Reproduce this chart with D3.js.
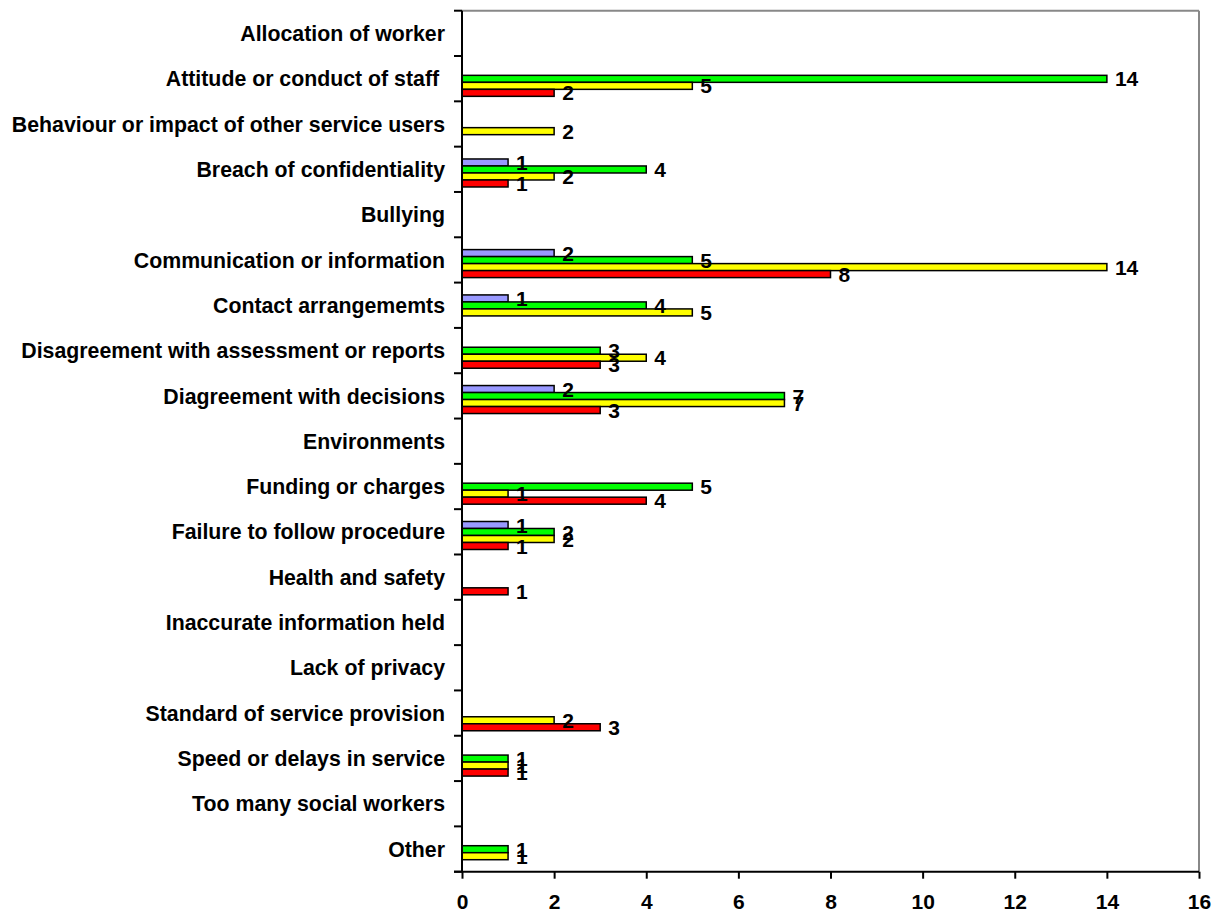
<!DOCTYPE html>
<html>
<head>
<meta charset="utf-8">
<script src="https://cdn.jsdelivr.net/npm/d3@7"></script>
<style>
  html, body { margin: 0; padding: 0; background: #fff; }
  svg { display: block; font-family: "Liberation Sans", Arial, sans-serif; font-weight: bold; }
  text { white-space: pre; }
</style>
</head>
<body>
<svg id="chart" width="1229" height="912"></svg>
<script>
// Complaint categories, top to bottom
const categories = [
  "Allocation of worker",
  "Attitude or conduct of staff ",
  "Behaviour or impact of other service users",
  "Breach of confidentiality",
  "Bullying",
  "Communication or information",
  "Contact arrangememts",
  "Disagreement with assessment or reports",
  "Diagreement with decisions",
  "Environments",
  "Funding or charges",
  "Failure to follow procedure",
  "Health and safety",
  "Inaccurate information held",
  "Lack of privacy",
  "Standard of service provision",
  "Speed or delays in service",
  "Too many social workers",
  "Other"
];

// Counts per series (null = no entry)
const seriesPurple = [null, null, null, 1, null, 2, 1, null, 2, null, null, 1, null, null, null, null, null, null, null];
const seriesGreen  = [null, 14, null, 4, null, 5, 4, 3, 7, null, 5, 2, null, null, null, null, 1, null, 1];
const seriesYellow = [null, 5, 2, 2, null, 14, 5, 4, 7, null, 1, 2, null, null, null, 2, 1, null, 1];
const seriesRed    = [null, 2, null, 1, null, 8, null, 3, 3, null, 4, 1, 1, null, null, 3, 1, null, null];

const xTicks = [0, 2, 4, 6, 8, 10, 12, 14, 16];

const series = [
  { key: "purple", values: seriesPurple, color: "#9999FF" },
  { key: "green",  values: seriesGreen,  color: "#00FF00" },
  { key: "yellow", values: seriesYellow, color: "#FFFF00" },
  { key: "red",    values: seriesRed,    color: "#FF0000" }
];

const svg = d3.select("#chart");
const plotLeft = 462, plotRight = 1199, plotTop = 10.7, plotBottom = 871.7;

const x = d3.scaleLinear().domain([0, 16]).range([plotLeft, plotRight]);
const y = d3.scaleBand().domain(categories).range([plotTop, plotBottom]).paddingInner(0).paddingOuter(0);
const bw = y.bandwidth();
// bar cluster sits in the lower part of each category slot
const ySeries = d3.scaleBand().domain(series.map(s => s.key))
  .range([bw * 0.272, bw * 0.272 + 28]).padding(0);

// plot frame: grey top and right edges
svg.append("line").attr("x1", plotLeft).attr("x2", plotRight).attr("y1", plotTop).attr("y2", plotTop)
  .attr("stroke", "#888").attr("stroke-width", 2);
svg.append("line").attr("x1", plotRight).attr("x2", plotRight).attr("y1", plotTop).attr("y2", plotBottom)
  .attr("stroke", "#888").attr("stroke-width", 2);

// bars
const groups = svg.append("g");
series.forEach(s => {
  const rows = categories.map((c, i) => ({ c, v: s.values[i] })).filter(d => d.v != null);
  groups.selectAll(null).data(rows).enter().append("rect")
    .attr("x", x(0))
    .attr("y", d => y(d.c) + ySeries(s.key))
    .attr("width", d => x(d.v) - x(0))
    .attr("height", ySeries.bandwidth())
    .attr("fill", s.color)
    .attr("stroke", "#000")
    .attr("stroke-width", 1.5);
});

// value labels
series.forEach(s => {
  const rows = categories.map((c, i) => ({ c, v: s.values[i] })).filter(d => d.v != null);
  svg.append("g").selectAll(null).data(rows).enter().append("text")
    .attr("x", d => x(d.v) + 8)
    .attr("y", d => y(d.c) + ySeries(s.key) + ySeries.bandwidth() / 2)
    .attr("dy", "0.36em")
    .attr("font-size", 21)
    .attr("fill", "#000")
    .text(d => d.v);
});

// category axis
const yAxis = svg.append("g").attr("transform", `translate(${plotLeft},0)`);
yAxis.append("line").attr("x1", 0).attr("x2", 0).attr("y1", plotTop).attr("y2", plotBottom)
  .attr("stroke", "#000").attr("stroke-width", 2);
const boundaries = categories.map(c => y(c)).concat([plotBottom]);
yAxis.selectAll(".tk").data(boundaries).enter().append("line")
  .attr("x1", -8).attr("x2", 0).attr("y1", d => d).attr("y2", d => d)
  .attr("stroke", "#000").attr("stroke-width", 2);
yAxis.selectAll(".lbl").data(categories).enter().append("text")
  .attr("x", -17)
  .attr("y", d => y(d) + bw / 2)
  .attr("dy", "0.36em")
  .attr("text-anchor", "end")
  .attr("font-size", 21.3)
  .attr("fill", "#000")
  .text(d => d);

// value axis
const xAxis = svg.append("g").attr("transform", `translate(0,${plotBottom})`)
  .call(d3.axisBottom(x).tickValues(xTicks).tickSize(7).tickPadding(15).tickFormat(d3.format("d")));
xAxis.select(".domain").remove();
xAxis.append("line").attr("x1", plotLeft - 8).attr("x2", plotRight).attr("y1", 0).attr("y2", 0)
  .attr("stroke", "#000").attr("stroke-width", 2);
xAxis.selectAll(".tick line").attr("stroke", "#000").attr("stroke-width", 2);
xAxis.selectAll(".tick text")
  .attr("font-size", 21)
  .attr("font-family", "'Liberation Sans', Arial, sans-serif")
  .attr("font-weight", "bold")
  .attr("fill", "#000");
</script>
</body>
</html>
